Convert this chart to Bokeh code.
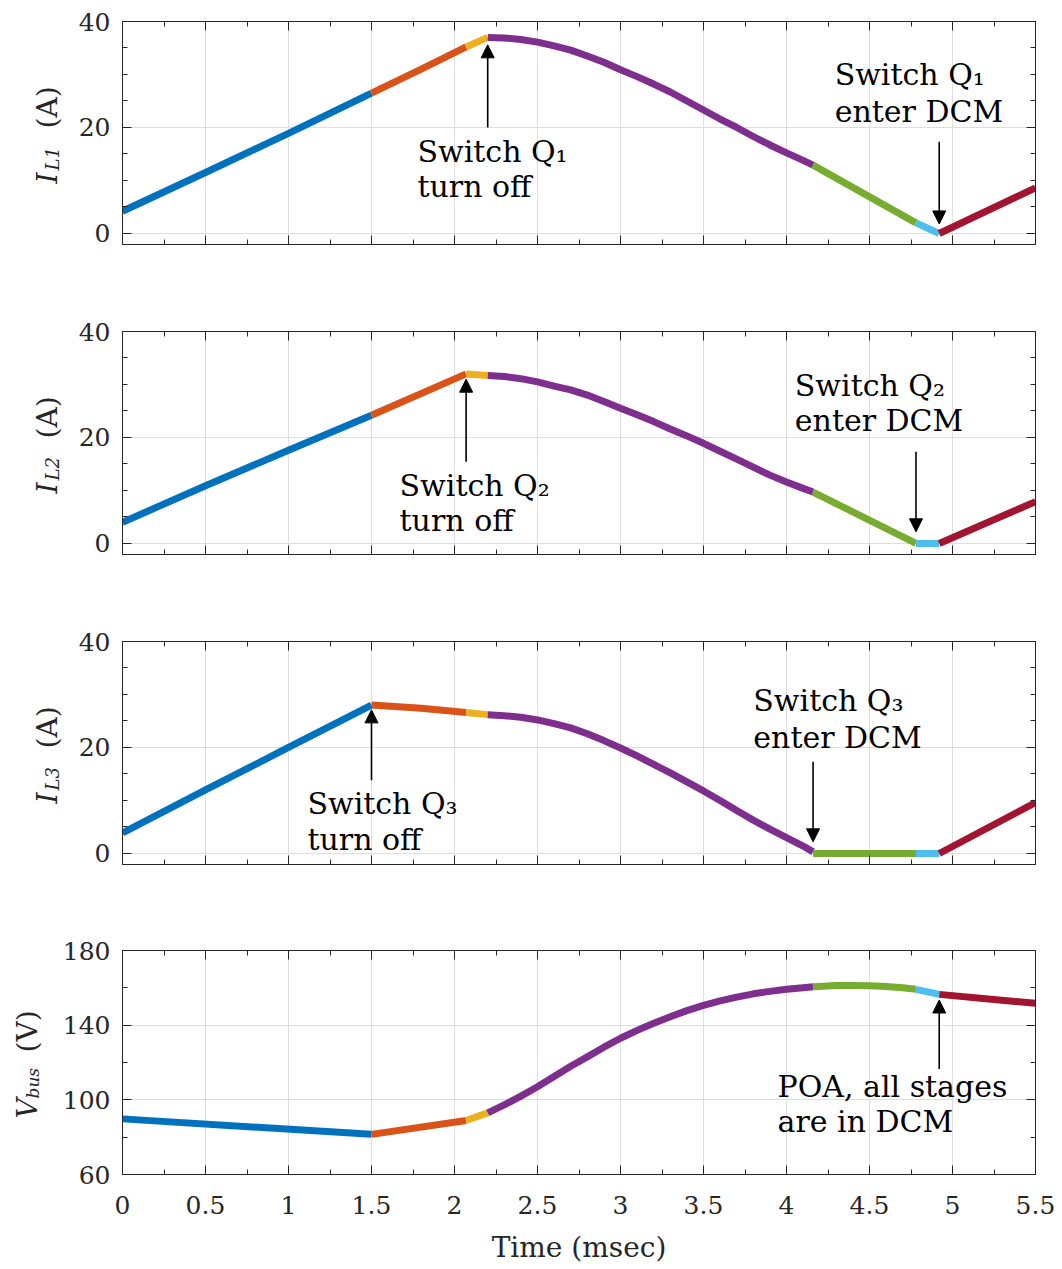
import numpy as np
from bokeh.plotting import figure
from bokeh.layouts import column, row
from bokeh.models import (LinearAxis, FixedTicker, CustomJSTickFormatter, Label,
                          Arrow, NormalHead, Range1d)
from bokeh.core.properties import value
from bokeh.embed import file_html
from bokeh.resources import INLINE

# ---------------- data ----------------
seg_colors = ["#0072BD", "#D95319", "#EDB120", "#7E2F8E", "#77AC30", "#4DBEEE", "#A2142F"]

x_ticks = [0, 0.5, 1, 1.5, 2, 2.5, 3, 3.5, 4, 4.5, 5, 5.5]
x_tick_labels = ["0", "0.5", "1", "1.5", "2", "2.5", "3", "3.5", "4", "4.5", "5", "5.5"]
i_ticks = [0, 20, 40]
v_ticks = [60, 100, 140, 180]

purple_t = [2.2, 2.3, 2.4, 2.5, 2.6, 2.7, 2.8, 2.9, 3.0, 3.1, 3.2, 3.3, 3.4, 3.5,
            3.6, 3.7, 3.8, 3.9, 4.0, 4.1, 4.16]

# I_L1 (A): one time list and one value list per coloured stage
il1_t = [[0, 0.5, 1.0, 1.5], [1.5, 1.8, 2.07], [2.07, 2.2], purple_t,
         [4.16, 4.78], [4.78, 4.92], [4.92, 5.5]]
il1_v = [[4.2, 11.5, 18.9, 26.5], [26.5, 31.0, 35.2], [35.2, 37.0],
         [37.0, 36.9, 36.6, 36.1, 35.4, 34.6, 33.5, 32.3, 30.9, 29.6, 28.2, 26.7,
          25.0, 23.3, 21.6, 20.0, 18.3, 16.7, 15.2, 13.8, 12.9],
         [12.9, 2.0], [2.0, 0.0], [0.0, 8.6]]

# I_L2 (A)
il2_t = [[0, 0.5, 1.0, 1.5], [1.5, 2.07], [2.07, 2.2], purple_t,
         [4.16, 4.78], [4.78, 4.92], [4.92, 5.5]]
il2_v = [[4.0, 10.9, 17.6, 24.2], [24.2, 32.0], [32.0, 31.7],
         [31.7, 31.5, 31.1, 30.5, 29.7, 29.0, 28.0, 26.8, 25.5, 24.3, 23.0, 21.6,
          20.3, 18.9, 17.4, 15.9, 14.4, 12.9, 11.6, 10.4, 9.7],
         [9.7, 0.0], [0.0, 0.0], [0.0, 7.9]]

# I_L3 (A)
il3_t = [[0, 0.5, 1.0, 1.5], [1.5, 1.8, 2.07], [2.07, 2.2], purple_t,
         [4.16, 4.78], [4.78, 4.92], [4.92, 5.5]]
il3_v = [[3.9, 12.0, 20.0, 28.0], [28.0, 27.4, 26.6], [26.6, 26.2],
         [26.2, 26.0, 25.7, 25.2, 24.5, 23.7, 22.6, 21.3, 19.9, 18.4, 16.8, 15.2,
          13.5, 11.8, 10.0, 8.1, 6.3, 4.6, 3.0, 1.4, 0.3],
         [0.0, 0.0], [0.0, 0.0], [0.0, 9.6]]

# V_bus (V)
vbus_t = [[0, 1.5], [1.5, 2.07], [2.07, 2.2], purple_t,
          [4.16, 4.3, 4.4, 4.5, 4.6, 4.7, 4.78], [4.78, 4.92], [4.92, 5.2, 5.5]]
vbus_v = [[89.8, 81.5], [81.5, 88.9], [88.9, 93.0],
          [93.0, 97.3, 102.0, 107.0, 112.5, 118.0, 123.0, 128.2, 133.0, 137.2, 141.0,
           144.5, 147.8, 150.6, 153.0, 155.0, 156.8, 158.1, 159.2, 160.1, 160.6],
          [160.6, 161.2, 161.3, 161.1, 160.7, 160.0, 159.2], [159.2, 156.5],
          [156.5, 154.2, 151.7]]

# ---------------- style / layout ----------------
FONT = "DejaVu Serif"
AX = "#262626"
GRID = "#dedede"
FRAME_LEFT = 122
FRAME_W = 913
XMAX = 5.5


def blank():
    return CustomJSTickFormatter(code="return ''")


def style_axis(ax, ticks, minor):
    ax.ticker = FixedTicker(ticks=ticks, minor_ticks=minor)
    ax.axis_line_color = AX
    ax.major_tick_line_color = AX
    ax.minor_tick_line_color = AX
    ax.major_tick_in = 9
    ax.major_tick_out = 0
    ax.minor_tick_in = 5
    ax.minor_tick_out = 0
    ax.major_label_text_font = FONT
    ax.major_label_text_font_size = "25px"
    ax.major_label_text_color = AX


def make_panel(ts, vs, ymin, ymax, yticks, yminor, frame_h, top, bottom, left, show_x):
    p = figure(frame_width=FRAME_W, frame_height=frame_h,
               x_range=Range1d(0, XMAX), y_range=Range1d(ymin, ymax),
               output_backend="svg", toolbar_location=None,
               min_border_left=left, min_border_right=27,
               min_border_top=top, min_border_bottom=bottom,
               background_fill_color="white", border_fill_color="white")
    p.outline_line_color = AX
    xminor = list(np.arange(0, 5.51, 0.25))
    style_axis(p.xaxis[0], x_ticks, xminor)
    style_axis(p.yaxis[0], yticks, yminor)
    p.yaxis[0].major_label_standoff = 12
    if show_x:
        p.xaxis[0].major_label_overrides = {t: l for t, l in zip(x_ticks, x_tick_labels)}
        p.xaxis[0].major_label_standoff = 21
        p.xaxis[0].axis_label = "Time (msec)"
        p.xaxis[0].axis_label_text_font = FONT
        p.xaxis[0].axis_label_text_font_size = "28px"
        p.xaxis[0].axis_label_text_font_style = "normal"
        p.xaxis[0].axis_label_text_color = AX
        p.xaxis[0].axis_label_standoff = 14
    else:
        p.xaxis[0].formatter = blank()
    top_ax = LinearAxis(formatter=blank())
    style_axis(top_ax, x_ticks, xminor)
    p.add_layout(top_ax, "above")
    right_ax = LinearAxis(formatter=blank())
    style_axis(right_ax, yticks, yminor)
    p.add_layout(right_ax, "right")
    p.xgrid.ticker = FixedTicker(ticks=x_ticks)
    p.ygrid.ticker = FixedTicker(ticks=yticks)
    p.xgrid.grid_line_color = GRID
    p.ygrid.grid_line_color = GRID
    for t, v, c in zip(ts, vs, seg_colors):
        p.line(t, v, line_color=c, line_width=7, line_cap="butt", line_join="round")
    return p


def title_strip(width, height, top, bottom, parts):
    # a narrow plot left of a panel holding its y-axis title; its frame is aligned
    # with the panel frame, so the y range is expressed in pixels from the row bottom.
    s = figure(width=width, height=height, x_range=Range1d(0, width),
               y_range=Range1d(bottom, height - top), x_axis_type=None, y_axis_type=None,
               output_backend="svg", toolbar_location=None, min_border=0,
               outline_line_color=None, background_fill_color="white",
               border_fill_color="white")
    s.grid.visible = False
    for text, sx, sy, size, ital in parts:
        s.text(x=[sx], y=[height - sy], text=[text], angle=np.pi / 2,
               text_align="left", text_baseline="alphabetic",
               text_font=value(FONT), text_font_size=value(size), text_color=AX,
               text_font_style="italic" if ital else "normal")
    return s


def note(p, x, y, text):
    p.add_layout(Label(x=x, y=y, text=text, text_align="left", text_baseline="alphabetic",
                       text_font=FONT, text_font_size="30px", text_color="black"))


def arrow(p, x, y0, y1):
    p.add_layout(Arrow(x_start=x, y_start=y0, x_end=x, y_end=y1, line_width=1.6,
                       line_color="black",
                       end=NormalHead(size=13, fill_color="black", line_color="black",
                                      line_width=1)))


iminor = list(range(0, 41, 5))
vminor = list(range(60, 181, 20))

SW_I, SW_V = 68, 50   # strip widths

p1 = make_panel(il1_t, il1_v, -2.08, 40, i_ticks, iminor, 223, 21, 66, FRAME_LEFT - SW_I, False)
p2 = make_panel(il2_t, il2_v, -2.08, 40, i_ticks, iminor, 223, 21, 66, FRAME_LEFT - SW_I, False)
p3 = make_panel(il3_t, il3_v, -2.08, 40, i_ticks, iminor, 223, 21, 66, FRAME_LEFT - SW_I, False)
p4 = make_panel(vbus_t, vbus_v, 60, 180, v_ticks, vminor, 224, 20, 95, FRAME_LEFT - SW_V, True)

strips = [title_strip(SW_I, 310, 21, 66, [("I", 47, 183, "28px", True),
                                          (sub, 52, 170, "18px", True),
                                          ("(A)", 47, 128, "28px", False)])
          for sub in ("L1", "L2", "L3")]
strips.append(title_strip(SW_V, 339, 20, 95, [("V", 27, 188, "28px", True),
                                              ("bus", 32, 168, "17px", True),
                                              ("(V)", 27, 122, "28px", False)]))

# annotations
note(p1, 1.777, 15.5, "Switch Q₁")
note(p1, 1.777, 8.9, "turn off")
arrow(p1, 2.2, 20.0, 35.6)
note(p1, 4.29, 30.0, "Switch Q₁")
note(p1, 4.29, 23.0, "enter DCM")
arrow(p1, 4.92, 17.3, 1.8)

note(p2, 1.669, 10.9, "Switch Q₂")
note(p2, 1.669, 4.3, "turn off")
arrow(p2, 2.07, 15.4, 31.0)
note(p2, 4.05, 29.9, "Switch Q₂")
note(p2, 4.05, 23.3, "enter DCM")
arrow(p2, 4.78, 17.3, 2.2)

note(p3, 1.114, 9.4, "Switch Q₃")
note(p3, 1.114, 2.7, "turn off")
arrow(p3, 1.5, 13.8, 27.1)
note(p3, 3.80, 28.8, "Switch Q₃")
note(p3, 3.80, 21.8, "enter DCM")
arrow(p3, 4.16, 17.3, 2.2)

note(p4, 3.946, 107.4, "POA, all stages")
note(p4, 3.946, 88.2, "are in DCM")
arrow(p4, 4.92, 116.5, 153.5)

layout = column(*[row(s, p, spacing=0) for s, p in zip(strips, (p1, p2, p3, p4))], spacing=0)
open("out.html", "w").write(file_html(layout, INLINE))
